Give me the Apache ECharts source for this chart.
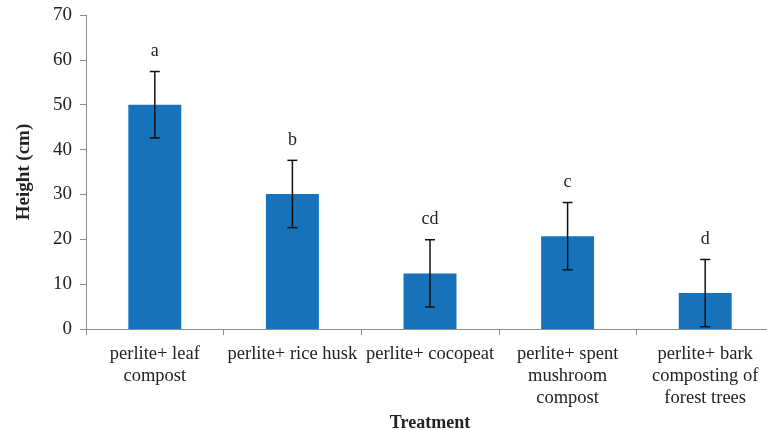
<!DOCTYPE html>
<html>
<head>
<meta charset="utf-8">
<script src="https://cdn.jsdelivr.net/npm/echarts@6/dist/echarts.min.js"></script>
<style>
html,body{margin:0;padding:0;background:#fff;}
#chart{width:767px;height:430px;}
</style>
</head>
<body>
<div id="chart"></div>
<script>
var categories = ['perlite+ leaf\ncompost', 'perlite+ rice husk', 'perlite+ cocopeat', 'perlite+ spent\nmushroom\ncompost', 'perlite+ bark\ncomposting of\nforest trees'];
var heights = [50.0, 30.1, 12.4, 20.7, 8.0];
var errors = [7.4, 7.5, 7.5, 7.5, 7.5];
var letters = ['a', 'b', 'cd', 'c', 'd'];
var yTicks = [0, 10, 20, 30, 40, 50, 60, 70];

var serif = '"Liberation Serif", "DejaVu Serif", serif';
var chart = echarts.init(document.getElementById('chart'), null, {renderer: 'canvas'});

var errData = heights.map(function (h, i) {
  return [i, h + errors[i], h - errors[i], letters[i]];
});

chart.setOption({
  animation: false,
  backgroundColor: '#fff',
  grid: {left: 86, top: 15, width: 688, height: 314, containLabel: false, outerBoundsMode: 'none'},
  xAxis: {
    type: 'category',
    data: categories,
    name: 'Treatment',
    nameLocation: 'middle',
    nameGap: 73,
    nameTextStyle: {fontFamily: serif, fontSize: 18, fontWeight: 'bold', color: '#222'},
    axisLine: {lineStyle: {color: '#8c8c8c', width: 1}},
    axisTick: {show: true, length: 6, lineStyle: {color: '#8c8c8c'}},
    axisLabel: {interval: 0, fontFamily: serif, fontSize: 18.5, color: '#222', lineHeight: 22, margin: 14}
  },
  yAxis: {
    type: 'value',
    min: 0, max: 70, interval: 10,
    name: 'Height (cm)',
    nameLocation: 'middle',
    nameGap: 52,
    nameRotate: 90,
    nameTextStyle: {fontFamily: serif, fontSize: 19, fontWeight: 'bold', color: '#222'},
    axisLine: {show: true, lineStyle: {color: '#8c8c8c', width: 1}},
    axisTick: {show: true, length: 6, lineStyle: {color: '#8c8c8c'}},
    splitLine: {show: false},
    axisLabel: {fontFamily: serif, fontSize: 19, color: '#222', margin: 14,
      formatter: function (v) { return yTicks.indexOf(v) >= 0 ? String(v) : ''; }}
  },
  series: [
    {
      type: 'bar',
      data: heights,
      barWidth: '38.5%',
      itemStyle: {color: '#1673BB'},
      silent: true
    },
    {
      type: 'custom',
      data: errData,
      z: 10,
      silent: true,
      renderItem: function (params, api) {
        var i = api.value(0);
        var hi = api.coord([i, api.value(1)]);
        var lo = api.coord([i, api.value(2)]);
        var cap = 5;
        var style = {stroke: '#111', lineWidth: 1.5};
        return {
          type: 'group',
          children: [
            {type: 'line', shape: {x1: hi[0], y1: hi[1], x2: lo[0], y2: lo[1]}, style: style},
            {type: 'line', shape: {x1: hi[0] - cap, y1: hi[1], x2: hi[0] + cap, y2: hi[1]}, style: style},
            {type: 'line', shape: {x1: lo[0] - cap, y1: lo[1], x2: lo[0] + cap, y2: lo[1]}, style: style},
            {type: 'text', x: hi[0], y: hi[1] - 20,
              style: {text: letters[params.dataIndex], fill: '#222', font: '18px ' + serif, textAlign: 'center', textVerticalAlign: 'middle'}}
          ]
        };
      }
    }
  ]
});
</script>
</body>
</html>
